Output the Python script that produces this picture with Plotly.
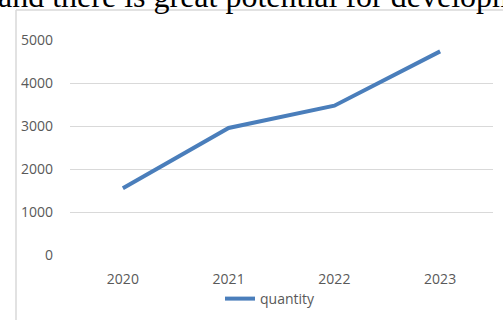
import plotly.graph_objects as go

years = ["2020", "2021", "2022", "2023"]
quantity = [1553, 2955, 3472, 4735]
y_ticks = [0, 1000, 2000, 3000, 4000, 5000]
series_name = "quantity"
heading = "and there is great potential for development"

W, H = 503, 320
L, R, T, B = 70, 10, 40, 65
PW, PH = W - L - R, H - T - B

fig = go.Figure()
fig.add_trace(go.Scatter(
    x=list(range(len(years))), y=quantity, mode="lines", name=series_name,
    line=dict(color="#4a7ebb", width=4),
))

fig.update_layout(
    width=W, height=H,
    margin=dict(l=L, r=R, t=T, b=B, pad=0, autoexpand=False),
    paper_bgcolor="white", plot_bgcolor="white",
    font=dict(family="Open Sans", size=14, color="#595959"),
    showlegend=True,
    legend=dict(orientation="h", x=(220 - L) / PW, xanchor="left",
                y=(H - B - 299) / PH, yanchor="middle",
                yref="paper", font=dict(size=14, color="#595959"), bgcolor="rgba(0,0,0,0)",
                itemwidth=30),
    xaxis=dict(
        range=[-0.5, len(years) - 0.5], tickmode="array",
        tickvals=list(range(len(years))), ticktext=years,
        showgrid=False, zeroline=False, showline=False, ticks="",
        ticklabelstandoff=14,
    ),
    yaxis=dict(
        range=[0, 5000], tickmode="array", tickvals=y_ticks,
        ticktext=[str(v) for v in y_ticks],
        showgrid=True, gridcolor="#d9d9d9", gridwidth=1,
        zeroline=False, showline=False, ticks="",
        ticklabelstandoff=16,
    ),
)

# chart-area frame
fig.add_shape(type="line", xref="paper", yref="paper",
              x0=(16 - L) / PW, x1=(W + 5 - L) / PW,
              y0=(H - B - 10) / PH, y1=(H - B - 10) / PH,
              line=dict(color="#d9d9d9", width=1.5), layer="below")
fig.add_shape(type="line", xref="paper", yref="paper",
              x0=(16 - L) / PW, x1=(16 - L) / PW,
              y0=(H - B - 10) / PH, y1=(H - B - H - 5) / PH,
              line=dict(color="#d9d9d9", width=1.5), layer="below")

# heading text cut off at top
fig.add_annotation(text=heading, xref="paper", yref="paper",
                   x=(-4 - L) / PW, xanchor="left",
                   y=(H - B - 7) / PH, yanchor="bottom", yshift=-9,
                   showarrow=False,
                   font=dict(family="Liberation Serif", size=32, color="black"))

fig.write_html("out.html")
